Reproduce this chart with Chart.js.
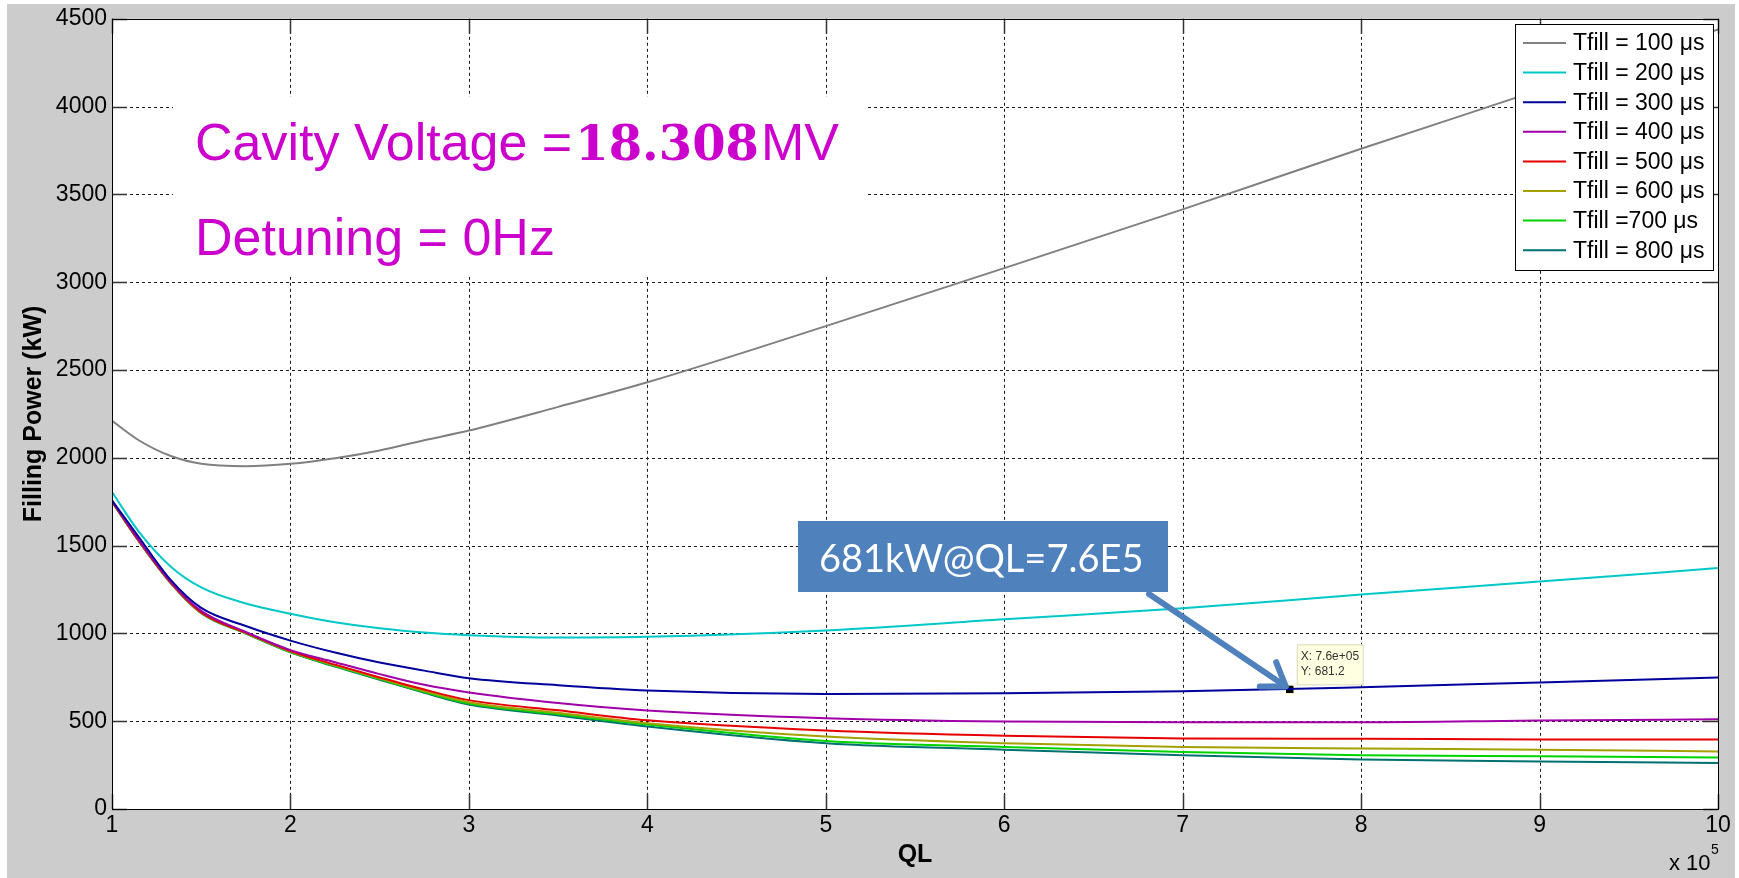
<!DOCTYPE html>
<html>
<head>
<meta charset="utf-8">
<title>Filling Power vs QL</title>
<script src="https://cdn.jsdelivr.net/npm/chart.js@4.4.0/dist/chart.umd.min.js"></script>
<style>
  html, body { margin: 0; padding: 0; background: #fff; }
  canvas { display: block; }
</style>
</head>
<body>
<canvas id="chart" width="1739" height="878"></canvas>
<script>
// QL in units of 1e5
const qlValues = [1, 1.15, 1.33, 1.5, 1.75, 2, 2.25, 2.5, 2.75, 3, 3.5, 4, 5, 6, 7, 8, 9, 10];

// Filling power (kW) for each fill time
const tfill100 = [2211, 2100, 2010, 1966, 1952, 1966, 1998, 2042, 2100, 2155, 2290, 2430, 2750, 3080, 3415, 3760, 4095, 4440];
const tfill200 = [1805, 1580, 1380, 1262, 1170, 1112, 1063, 1030, 1005, 990, 977, 981, 1017, 1080, 1143, 1221, 1295, 1372];
const tfill300 = [1758, 1549, 1303, 1145, 1042, 959, 891, 834, 788, 745, 705, 675, 655, 659, 670, 693, 721, 749];
const tfill400 = [1755, 1532, 1292, 1128, 1008, 905, 836, 768, 707, 664, 604, 561, 517, 498, 494, 494, 504, 511];
const tfill500 = [1752, 1528, 1288, 1120, 1004, 900, 822, 749, 680, 620, 562, 505, 447, 417, 402, 400, 396, 396];
const tfill600 = [1751, 1527, 1287, 1118, 1002, 897, 818, 744, 672, 608, 548, 489, 413, 375, 353, 344, 338, 328];
const tfill700 = [1750, 1526, 1286, 1116, 1000, 894, 814, 740, 666, 600, 540, 481, 387, 353, 324, 306, 300, 293];
const tfill800 = [1749, 1525, 1285, 1115, 999, 892, 811, 736, 662, 595, 533, 470, 375, 338, 306, 282, 271, 262];

const seriesLabels = ['Tfill = 100 μs', 'Tfill = 200 μs', 'Tfill = 300 μs', 'Tfill = 400 μs',
                      'Tfill = 500 μs', 'Tfill = 600 μs', 'Tfill =700 μs', 'Tfill = 800 μs'];
const seriesColors = ['#808080', '#00c8c8', '#00009c', '#a000a8', '#e60000', '#a3a000', '#00d400', '#007070'];

const xTicks = [1, 2, 3, 4, 5, 6, 7, 8, 9, 10];
const yTicks = [0, 500, 1000, 1500, 2000, 2500, 3000, 3500, 4000, 4500];

// data tip
const tipQL = 7.6;
const tipPower = 681.2;

const FONT = '"Liberation Sans", Arial, sans-serif';

const allSeries = [tfill100, tfill200, tfill300, tfill400, tfill500, tfill600, tfill700, tfill800];

const datasets = allSeries.map((values, i) => ({
    label: seriesLabels[i],
    data: values.map((v, j) => ({ x: qlValues[j], y: v })),
    borderColor: seriesColors[i],
    backgroundColor: seriesColors[i],
    borderWidth: 2,
    pointRadius: 0,
    cubicInterpolationMode: 'monotone',
    fill: false
}));

datasets.push({
    label: 'tip',
    data: [{ x: tipQL, y: tipPower }],
    showLine: false,
    pointStyle: 'rect',
    pointRadius: 6,
    pointBackgroundColor: '#000',
    pointBorderColor: '#ffffc8',
    pointBorderWidth: 1
});

function drawArrow(ctx, x0, y0, x1, y1) {
    const ang = Math.atan2(y1 - y0, x1 - x0);
    const wing = 26;
    ctx.save();
    ctx.strokeStyle = '#4f81bd';
    ctx.lineWidth = 6;
    ctx.lineCap = 'round';
    ctx.lineJoin = 'round';
    ctx.beginPath();
    ctx.moveTo(x0, y0);
    ctx.lineTo(x1, y1);
    ctx.stroke();
    ctx.beginPath();
    ctx.moveTo(x1 - wing * Math.cos(ang - 0.6), y1 - wing * Math.sin(ang - 0.6));
    ctx.lineTo(x1, y1);
    ctx.lineTo(x1 - wing * Math.cos(ang + 0.6), y1 - wing * Math.sin(ang + 0.6));
    ctx.stroke();
    ctx.restore();
}

const figurePlugin = {
    id: 'figure',
    beforeDraw(chart) {
        const { ctx, chartArea: a, width, height } = chart;
        ctx.save();
        ctx.fillStyle = '#ffffff';
        ctx.fillRect(0, 0, width, height);
        ctx.fillStyle = '#cccccc';
        ctx.fillRect(7, 4, width - 11, height - 4);
        ctx.fillStyle = '#ffffff';
        ctx.fillRect(a.left, a.top, a.right - a.left, a.bottom - a.top);
        ctx.restore();
    },
    beforeDatasetsDraw(chart) {
        // dotted grid
        const { ctx, chartArea: a, scales } = chart;
        ctx.save();
        ctx.strokeStyle = '#1a1a1a';
        ctx.lineWidth = 1;
        ctx.setLineDash([3, 3]);
        xTicks.forEach(t => {
            const px = Math.round(scales.x.getPixelForValue(t)) + 0.5;
            ctx.beginPath();
            ctx.moveTo(px, a.top);
            ctx.lineTo(px, a.bottom);
            ctx.stroke();
        });
        yTicks.forEach(t => {
            const py = Math.round(scales.y.getPixelForValue(t)) + 0.5;
            ctx.beginPath();
            ctx.moveTo(a.left, py);
            ctx.lineTo(a.right, py);
            ctx.stroke();
        });
        ctx.restore();
    },
    afterDatasetsDraw(chart) {
        const { ctx, chartArea: a, scales } = chart;
        ctx.save();

        // text panel
        ctx.fillStyle = '#ffffff';
        ctx.fillRect(173, 97, 692, 180);
        ctx.fillStyle = '#cc00cc';
        ctx.textBaseline = 'alphabetic';
        ctx.textAlign = 'left';
        ctx.font = '52px ' + FONT;
        const part1 = 'Cavity Voltage =';
        ctx.fillText(part1, 195, 160);
        let xx = 195 + ctx.measureText(part1).width;
        ctx.font = 'bold 48px "DejaVu Serif", "Liberation Serif", serif';
        ctx.fillText('18.308', xx + 3, 160);
        xx += 3 + ctx.measureText('18.308').width;
        ctx.font = '52px ' + FONT;
        ctx.fillText('MV', xx + 2, 160);
        ctx.fillText('Detuning = 0Hz', 195, 255);

        // data tip
        const px = scales.x.getPixelForValue(tipQL);
        const py = scales.y.getPixelForValue(tipPower);
        ctx.fillStyle = '#ffffe1';
        ctx.strokeStyle = '#d8d8c0';
        ctx.lineWidth = 1;
        ctx.fillRect(px + 7, py - 45, 66, 40);
        ctx.strokeRect(px + 7.5, py - 44.5, 66, 40);
        ctx.fillStyle = '#333333';
        ctx.font = '12px ' + FONT;
        ctx.textBaseline = 'middle';
        ctx.fillText('X: 7.6e+05', px + 11, py - 33);
        ctx.fillText('Y: 681.2', px + 11, py - 18);

        // callout box and arrow
        ctx.fillStyle = '#4f81bd';
        ctx.fillRect(798, 521, 370, 71);
        ctx.fillStyle = '#ffffff';
        ctx.font = '38px Lato, "Open Sans", sans-serif';
        ctx.textBaseline = 'alphabetic';
        ctx.fillText('681kW@QL=7.6E5', 819, 572);
        drawArrow(ctx, 1149, 594, px - 4, py - 3);

        // tick marks (inside, all four sides)
        ctx.strokeStyle = '#333333';
        ctx.lineWidth = 1.5;
        const tl = 15;
        xTicks.forEach(t => {
            const x = Math.round(scales.x.getPixelForValue(t)) + 0.5;
            ctx.beginPath();
            ctx.moveTo(x, a.bottom); ctx.lineTo(x, a.bottom - tl);
            ctx.moveTo(x, a.top); ctx.lineTo(x, a.top + tl);
            ctx.stroke();
        });
        yTicks.forEach(t => {
            const y = Math.round(scales.y.getPixelForValue(t)) + 0.5;
            ctx.beginPath();
            ctx.moveTo(a.left, y); ctx.lineTo(a.left + tl, y);
            ctx.moveTo(a.right, y); ctx.lineTo(a.right - tl, y);
            ctx.stroke();
        });

        // axes box
        ctx.strokeStyle = '#000000';
        ctx.lineWidth = 1;
        ctx.strokeRect(Math.round(a.left) + 0.5, Math.round(a.top) + 0.5,
                       Math.round(a.right - a.left), Math.round(a.bottom - a.top));

        // legend
        const lx = 1515, ly = 24, lw = 198, lh = 246, rowH = 29.6;
        ctx.fillStyle = '#ffffff';
        ctx.fillRect(lx, ly, lw, lh);
        ctx.strokeStyle = '#000000';
        ctx.strokeRect(lx + 0.5, ly + 0.5, lw, lh);
        ctx.font = '23px ' + FONT;
        ctx.textBaseline = 'middle';
        seriesLabels.forEach((label, i) => {
            const cy = ly + 19 + i * rowH;
            ctx.strokeStyle = seriesColors[i];
            ctx.lineWidth = 2;
            ctx.beginPath();
            ctx.moveTo(lx + 8, cy);
            ctx.lineTo(lx + 51, cy);
            ctx.stroke();
            ctx.fillStyle = '#000000';
            ctx.fillText(label, lx + 58, cy + 1);
        });

        // axis titles
        ctx.fillStyle = '#000000';
        ctx.font = 'bold 25px ' + FONT;
        ctx.textAlign = 'center';
        ctx.textBaseline = 'middle';
        ctx.fillText('QL', (a.left + a.right) / 2, 855);
        ctx.save();
        ctx.translate(34, (a.top + a.bottom) / 2);
        ctx.rotate(-Math.PI / 2);
        ctx.fillText('Filling Power (kW)', 0, 0);
        ctx.restore();

        // exponent label
        ctx.textAlign = 'left';
        ctx.textBaseline = 'alphabetic';
        ctx.font = '22px ' + FONT;
        ctx.fillText('x 10', 1669, 870);
        ctx.font = '14px ' + FONT;
        ctx.fillText('5', 1711, 854);

        ctx.restore();
    }
};

new Chart(document.getElementById('chart').getContext('2d'), {
    type: 'line',
    data: { datasets: datasets },
    options: {
        responsive: false,
        devicePixelRatio: 1,
        animation: false,
        layout: { padding: { left: 0, top: 17, right: 21, bottom: 0 } },
        plugins: {
            legend: { display: false },
            tooltip: { enabled: false },
            title: { display: false }
        },
        scales: {
            x: {
                type: 'linear',
                min: 1,
                max: 10,
                afterFit(scale) { scale.height = 69; },
                afterBuildTicks(scale) { scale.ticks = xTicks.map(v => ({ value: v })); },
                grid: { display: false, drawTicks: false },
                border: { display: false },
                ticks: {
                    font: { family: FONT, size: 23 },
                    color: '#000',
                    padding: 3,
                    maxRotation: 0,
                    autoSkip: false,
                    callback: v => String(v)
                }
            },
            y: {
                type: 'linear',
                min: 0,
                max: 4500,
                afterFit(scale) { scale.width = 112; },
                afterBuildTicks(scale) { scale.ticks = yTicks.map(v => ({ value: v })); },
                grid: { display: false, drawTicks: false },
                border: { display: false },
                ticks: {
                    font: { family: FONT, size: 23 },
                    color: '#000',
                    padding: 5,
                    autoSkip: false,
                    callback: v => String(v)
                }
            }
        }
    },
    plugins: [figurePlugin]
});
</script>
</body>
</html>
